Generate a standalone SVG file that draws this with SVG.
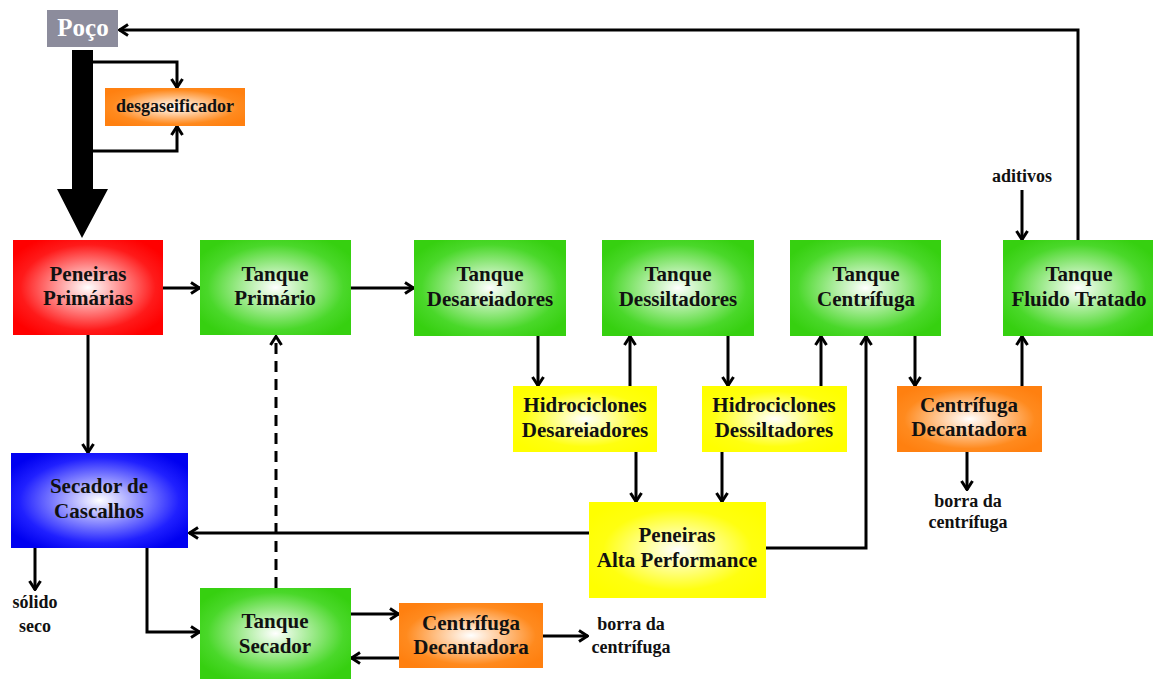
<svg xmlns="http://www.w3.org/2000/svg" width="1153" height="679" viewBox="0 0 1153 679">
  <defs>
    <radialGradient id="gRed" cx="0.5" cy="0.5" r="0.6">
      <stop offset="0" stop-color="#ffffff"/>
      <stop offset="0.75" stop-color="#ff1a1a"/>
      <stop offset="1" stop-color="#ff0000"/>
    </radialGradient>
    <radialGradient id="gGreen" cx="0.5" cy="0.5" r="0.6">
      <stop offset="0" stop-color="#ffffff"/>
      <stop offset="0.75" stop-color="#4ad82a"/>
      <stop offset="1" stop-color="#36d010"/>
    </radialGradient>
    <radialGradient id="gBlue" cx="0.5" cy="0.5" r="0.6">
      <stop offset="0" stop-color="#ffffff"/>
      <stop offset="0.75" stop-color="#2020ff"/>
      <stop offset="1" stop-color="#0000f0"/>
    </radialGradient>
    <radialGradient id="gYellow" cx="0.5" cy="0.5" r="0.6">
      <stop offset="0" stop-color="#ffffff"/>
      <stop offset="0.7" stop-color="#ffff10"/>
      <stop offset="1" stop-color="#ffff00"/>
    </radialGradient>
    <radialGradient id="gOrange" cx="0.5" cy="0.5" r="0.6">
      <stop offset="0" stop-color="#ffffff"/>
      <stop offset="0.75" stop-color="#ff8a1e"/>
      <stop offset="1" stop-color="#ff8010"/>
    </radialGradient>
    <marker id="arr" markerUnits="userSpaceOnUse" viewBox="0 0 12 14" refX="11" refY="7" markerWidth="12" markerHeight="14" orient="auto">
      <path d="M2,1.5 L10.5,7 L2,12.5" fill="none" stroke="#000" stroke-width="3"/>
    </marker>
  </defs>
  <style>
    .lbl { font-family: "Liberation Serif", "Times New Roman", serif; font-weight: bold; font-size: 21px; fill: #111; text-anchor: middle; }
    .sm { font-family: "Liberation Serif", "Times New Roman", serif; font-weight: bold; font-size: 18px; fill: #111; text-anchor: middle; }
    .ln { fill: none; stroke: #000; stroke-width: 3; }
    .ar { marker-end: url(#arr); }
    .dash { stroke-dasharray: 11 7; }
  </style>

  <rect width="1153" height="679" fill="#ffffff"/>

  <!-- connectors -->
  <g id="connectors">
    <!-- main thick flow from the well -->
    <polygon points="72,50 93,50 93,189 108,189 82,238 57,189 72,189" fill="#000"/>
    <polyline class="ln ar" points="93,62 177,62 177,88"/>
    <polyline class="ln ar" points="93,151 177,151 177,126"/>
    <!-- return to the well -->
    <polyline class="ln ar" points="1078,240 1078,30 119,30"/>
    <!-- top row -->
    <line class="ln ar" x1="163" y1="288" x2="200" y2="288"/>
    <line class="ln ar" x1="351" y1="288" x2="414" y2="288"/>
    <line class="ln ar" x1="538" y1="336" x2="538" y2="386"/>
    <line class="ln ar" x1="630" y1="386" x2="630" y2="336"/>
    <line class="ln ar" x1="728" y1="336" x2="728" y2="386"/>
    <line class="ln ar" x1="821" y1="386" x2="821" y2="336"/>
    <line class="ln ar" x1="915" y1="336" x2="915" y2="386"/>
    <line class="ln ar" x1="1022" y1="386" x2="1022" y2="336"/>
    <line class="ln ar" x1="1022" y1="190" x2="1022" y2="240"/>
    <line class="ln ar" x1="967" y1="452" x2="967" y2="490"/>
    <!-- hydrocyclones to high-performance screens -->
    <line class="ln ar" x1="636" y1="452" x2="636" y2="502"/>
    <line class="ln ar" x1="722" y1="452" x2="722" y2="502"/>
    <polyline class="ln ar" points="766,548 866,548 866,336"/>
    <line class="ln ar" x1="589" y1="533" x2="189" y2="533"/>
    <!-- cuttings dryer line -->
    <line class="ln ar" x1="88" y1="335" x2="88" y2="453"/>
    <line class="ln ar" x1="35" y1="548" x2="35" y2="590"/>
    <polyline class="ln ar" points="147,548 147,632 200,632"/>
    <line class="ln ar dash" x1="276" y1="588" x2="276" y2="336"/>
    <line class="ln ar" x1="351" y1="614" x2="399" y2="614"/>
    <line class="ln ar" x1="399" y1="658" x2="351" y2="658"/>
    <line class="ln ar" x1="543" y1="636" x2="588" y2="636"/>
  </g>

  <!-- nodes -->
  <g id="poco">
    <rect x="47" y="10" width="71" height="37" fill="#8c8c9c"/>
    <text x="83" y="36" text-anchor="middle" font-family="Liberation Serif, serif" font-weight="bold" font-size="25" fill="#ffffff">Poço</text>
  </g>
  <g id="desgaseificador">
    <rect x="105" y="88" width="140" height="38" fill="url(#gOrange)"/>
    <text class="sm" x="175" y="112">desgaseificador</text>
  </g>
  <g id="peneiras-primarias">
    <rect x="13" y="240" width="150" height="95" fill="url(#gRed)"/>
    <text class="lbl" x="88" y="281">Peneiras</text>
    <text class="lbl" x="88" y="305">Primárias</text>
  </g>
  <g id="tanque-primario">
    <rect x="200" y="240" width="151" height="95" fill="url(#gGreen)"/>
    <text class="lbl" x="275" y="281">Tanque</text>
    <text class="lbl" x="275" y="305">Primário</text>
  </g>
  <g id="tanque-desareiadores">
    <rect x="414" y="240" width="152" height="96" fill="url(#gGreen)"/>
    <text class="lbl" x="490" y="281">Tanque</text>
    <text class="lbl" x="490" y="306">Desareiadores</text>
  </g>
  <g id="tanque-dessiltadores">
    <rect x="602" y="240" width="152" height="96" fill="url(#gGreen)"/>
    <text class="lbl" x="678" y="281">Tanque</text>
    <text class="lbl" x="678" y="306">Dessiltadores</text>
  </g>
  <g id="tanque-centrifuga">
    <rect x="790" y="240" width="151" height="96" fill="url(#gGreen)"/>
    <text class="lbl" x="866" y="281">Tanque</text>
    <text class="lbl" x="866" y="306">Centrífuga</text>
  </g>
  <g id="tanque-fluido-tratado">
    <rect x="1003" y="240" width="150" height="96" fill="url(#gGreen)"/>
    <text class="lbl" x="1079" y="281">Tanque</text>
    <text class="lbl" x="1079" y="306">Fluido Tratado</text>
  </g>
  <g id="aditivos">
    <text class="sm" x="1022" y="182" font-size="17">aditivos</text>
  </g>
  <g id="hidrociclones-desareiadores">
    <rect x="513" y="386" width="144" height="66" fill="url(#gYellow)"/>
    <text class="lbl" x="585" y="412">Hidrociclones</text>
    <text class="lbl" x="585" y="437">Desareiadores</text>
  </g>
  <g id="hidrociclones-dessiltadores">
    <rect x="702" y="386" width="145" height="66" fill="url(#gYellow)"/>
    <text class="lbl" x="774" y="412">Hidrociclones</text>
    <text class="lbl" x="774" y="437">Dessiltadores</text>
  </g>
  <g id="centrifuga-decantadora-1">
    <rect x="897" y="386" width="145" height="66" fill="url(#gOrange)"/>
    <text class="lbl" x="969" y="412">Centrífuga</text>
    <text class="lbl" x="969" y="436">Decantadora</text>
  </g>
  <g id="borra-1">
    <text class="sm" x="968" y="507">borra da</text>
    <text class="sm" x="968" y="528">centrífuga</text>
  </g>
  <g id="peneiras-alta-performance">
    <rect x="589" y="502" width="177" height="96" fill="url(#gYellow)"/>
    <text class="lbl" x="677" y="542">Peneiras</text>
    <text class="lbl" x="677" y="567">Alta Performance</text>
  </g>
  <g id="secador-cascalhos">
    <rect x="11" y="453" width="177" height="95" fill="url(#gBlue)"/>
    <text class="lbl" x="99" y="493">Secador de</text>
    <text class="lbl" x="99" y="518">Cascalhos</text>
  </g>
  <g id="solido-seco">
    <text class="sm" x="35" y="608">sólido</text>
    <text class="sm" x="35" y="632">seco</text>
  </g>
  <g id="tanque-secador">
    <rect x="200" y="588" width="151" height="91" fill="url(#gGreen)"/>
    <text class="lbl" x="275" y="628">Tanque</text>
    <text class="lbl" x="275" y="653">Secador</text>
  </g>
  <g id="centrifuga-decantadora-2">
    <rect x="399" y="603" width="144" height="65" fill="url(#gOrange)"/>
    <text class="lbl" x="471" y="630">Centrífuga</text>
    <text class="lbl" x="471" y="654">Decantadora</text>
  </g>
  <g id="borra-2">
    <text class="sm" x="631" y="630">borra da</text>
    <text class="sm" x="631" y="653">centrífuga</text>
  </g>
</svg>
